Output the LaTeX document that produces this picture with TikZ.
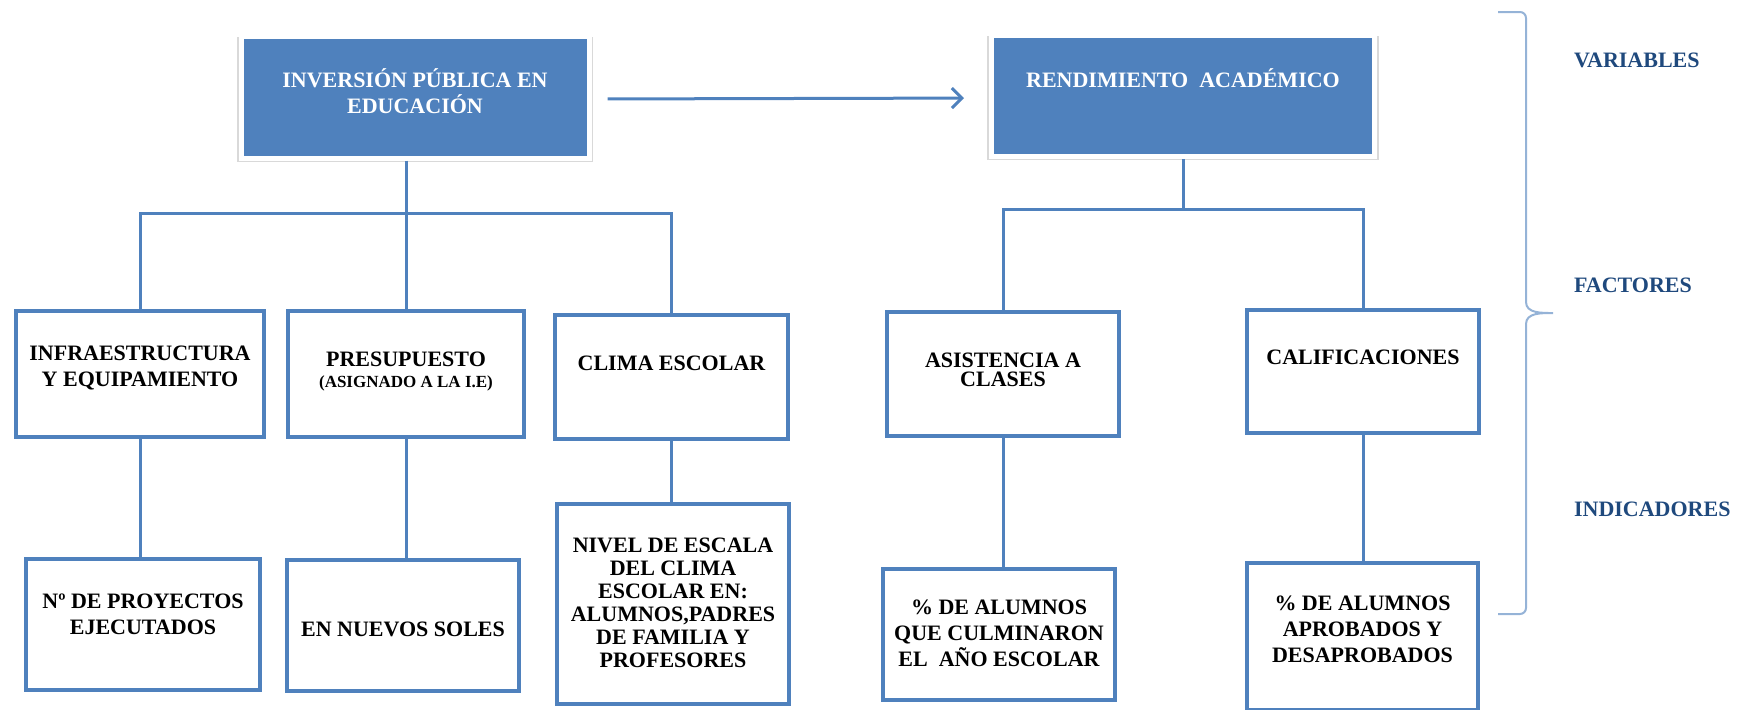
\documentclass[tikz,border=0pt]{standalone}
\usepackage{fontspec}
\setmainfont{Liberation Serif}
\usepackage{xcolor}
\usetikzlibrary{arrows.meta,shadows}

\definecolor{azul}{HTML}{4F81BD}
\definecolor{azulclaro}{HTML}{95B3D7}
\definecolor{azuloscuro}{HTML}{1F497D}

\tikzset{
	caja/.style = {draw=azul, line width=2pt, fill=white, inner sep=0pt, align=center,
		font=\bfseries\fontsize{11}{13}\selectfont},
	cabecera/.style = {caja, fill=azul, draw=white, line width=2.5pt, text=white,
		drop shadow={shadow xshift=0pt, shadow yshift=-1.2pt, shadow scale=1.025, opacity=0.3}},
	conector/.style = {draw=azul, line width=1.5pt},
	flecha/.style = {conector, -{Straight Barb[length=5pt, width=10pt, line width=1.5pt]}},
	llave/.style = {draw=azulclaro, line width=1pt},
	etiqueta/.style = {text=azuloscuro, anchor=west, font=\bfseries\fontsize{11}{13}\selectfont}
}

\begin{document}
\begin{tikzpicture}[x=0.5pt, y=0.5pt]
	\useasboundingbox (0,0) rectangle (1746,-709);
	
	% variables
	\node[cabecera, minimum width=174pt, text height=38.75pt, text depth=22.25pt] (inv) at (415,-97) {INVERSIÓN PÚBLICA EN\\EDUCACIÓN};
	\node[cabecera, minimum width=191.5pt, text height=26pt, text depth=34.5pt] (rend) at (1183,-96) {RENDIMIENTO~~ACADÉMICO};
	
	\draw[flecha, shorten <=8pt, shorten >=12.5pt] ([yshift=-1pt]inv.east) -- ([yshift=-1pt]rend.west);
	
	% factores
	\node[caja, minimum width=124pt, text height=37.75pt, text depth=25.25pt] (f1) at (140,-374) {INFRAESTRUCTURA\\Y EQUIPAMIENTO};
	\node[caja, minimum width=118pt, text height=38.25pt, text depth=24.75pt] (f2) at (406,-374) {PRESUPUESTO\\[-2.5pt]{\fontsize{8.5}{10}\selectfont (ASIGNADO A LA I.E)}};
	\node[caja, minimum width=116.5pt, text height=27.75pt, text depth=34.25pt] (f3) at (671.5,-377) {CLIMA ESCOLAR};
	\node[caja, minimum width=116pt, text height=37.25pt, text depth=24.75pt] (f4) at (1003,-374) {ASISTENCIA A\\[-3.5pt]CLASES};
	\node[caja, minimum width=116pt, text height=27.25pt, text depth=34.25pt] (f5) at (1363,-371.5) {CALIFICACIONES};
	
	% indicadores
	\node[caja, minimum width=117pt, text height=37.75pt, text depth=27.75pt] (i1) at (143,-624.5) {Nº DE PROYECTOS\\EJECUTADOS};
	\node[caja, minimum width=116pt, text height=38.25pt, text depth=27.25pt] (i2) at (403,-625.5) {EN NUEVOS SOLES};
	\node[caja, minimum width=116pt, text height=81.75pt, text depth=18.25pt,
		font=\bfseries\fontsize{11}{11.5}\selectfont] (i3) at (673,-604) {NIVEL DE ESCALA\\DEL CLIMA\\ESCOLAR EN:\\ALUMNOS,PADRES\\DE FAMILIA Y\\PROFESORES};
	\node[caja, minimum width=116pt, text height=48.75pt, text depth=16.75pt] (i4) at (999,-634.5) {\% DE ALUMNOS\\QUE CULMINARON\\EL~~AÑO ESCOLAR};
	\node[caja, minimum width=115.5pt, text height=49.75pt, text depth=23.75pt] (i5) at (1362.5,-636.5) {\% DE ALUMNOS\\APROBADOS Y\\DESAPROBADOS};
	
	% arbol
	\coordinate (barra1) at (405,-213);
	\coordinate (barra2) at (1183,-209);
	\draw[conector] (inv.south -| f2.north) -- (f2.north);
	\draw[conector] (f1.north) |- (barra1) -| (f3.north);
	\draw[conector] (rend.south) -- (barra2);
	\draw[conector] (f4.north) |- (barra2) -| (f5.north);
	\foreach \a/\b in {f1/i1, f2/i2, f3/i3, f4/i4, f5/i5} {
		\draw[conector] (\a.south) -- (\a.south |- \b.north);
	}
	
	% llave
	\draw[llave] (1498,-12) -- (1520,-12) to[out=0, in=90] (1526,-18) -- (1526,-302)
		to[out=-90, in=180] (1553,-313) to[out=180, in=90] (1526,-324) -- (1526,-608)
		to[out=-90, in=0] (1520,-614) -- (1498,-614);
	
	\node[etiqueta] (variables) at (1567,-60) {VARIABLES};
	\node[etiqueta] (factores) at (1567,-285) {FACTORES};
	\node[etiqueta] (indicadores) at (1567,-509) {INDICADORES};
\end{tikzpicture}
\end{document}
